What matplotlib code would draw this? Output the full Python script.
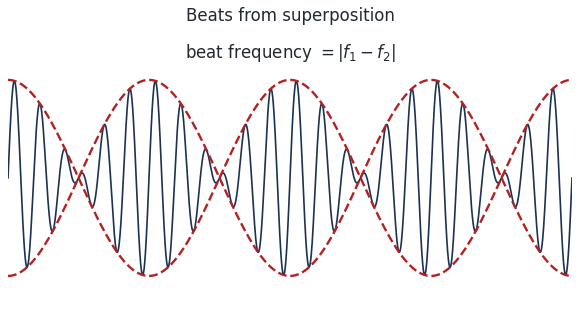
import numpy as np
import matplotlib
matplotlib.use('Agg')
import matplotlib.pyplot as plt

# parâmetros do sinal
f1 = 10.0
f2 = 12.0
t_max = 2.0
n_pts = 2000

title = 'Beats from superposition'
subtitle = r'beat frequency $= |f_1 - f_2|$'

t = np.linspace(0, t_max, n_pts)
signal = np.sin(2 * np.pi * f1 * t) + np.sin(2 * np.pi * f2 * t)
envelope = 2 * np.cos(np.pi * abs(f1 - f2) * t)

fig = plt.figure(figsize=(5.81, 3.2), dpi=100)
ax = fig.add_axes([8 / 581, 0.107, 564 / 581, 0.674])
ax.plot(t, signal, color='#1b3252', lw=1.2)
ax.plot(t, envelope, color='#b22222', lw=1.7, ls='--')
ax.plot(t, -envelope, color='#b22222', lw=1.7, ls='--')
ax.set_xlim(0, t_max)
ax.set_ylim(-2.2, 2.2)
ax.axis('off')

fig.text(0.5, 1 - 16 / 320, title, ha='center', va='center', fontsize=12, color='#222833')
fig.text(0.5, 1 - 53 / 320, subtitle, ha='center', va='center', fontsize=12, color='#222833')

fig.savefig('out.png', dpi=100)
